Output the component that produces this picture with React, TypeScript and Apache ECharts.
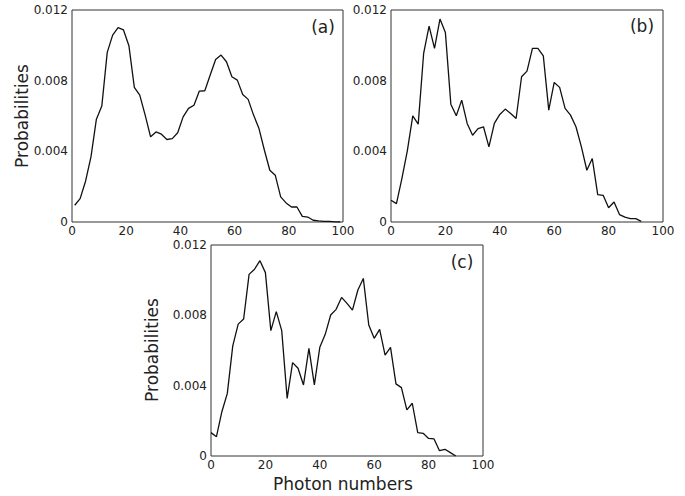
import React, { useEffect, useRef } from "react";
import * as echarts from "echarts";

const photonA = [1, 3, 5, 7, 9, 11, 13, 15, 17, 19, 21, 23, 25, 27, 29, 31, 33, 35, 37, 39, 41, 43, 45, 47, 49, 51, 53, 55, 57, 59, 61, 63, 65, 67, 69, 71, 73, 75, 77, 79, 81, 83, 85, 87, 89, 91, 93, 95, 97, 99];
const probA = [0.00095, 0.00132, 0.00231, 0.00369, 0.00582, 0.00656, 0.0096, 0.01058, 0.011, 0.01087, 0.00998, 0.00762, 0.00718, 0.00605, 0.00482, 0.0051, 0.00497, 0.00467, 0.00472, 0.00505, 0.00595, 0.00643, 0.00661, 0.00741, 0.00743, 0.00832, 0.0092, 0.00945, 0.00907, 0.00822, 0.00803, 0.00722, 0.00694, 0.00605, 0.00529, 0.00406, 0.00293, 0.00265, 0.00142, 0.00108, 0.00085, 0.00085, 0.00032, 0.00028, 0.0001, 0.00006, 0.00004, 0.00003, 0.00001, 0];

const photonB = [0, 2, 4, 6, 8, 10, 12, 14, 16, 18, 20, 22, 24, 26, 28, 30, 32, 34, 36, 38, 40, 42, 44, 46, 48, 50, 52, 54, 56, 58, 60, 62, 64, 66, 68, 70, 72, 74, 76, 78, 80, 82, 84, 86, 88, 90, 92];
const probB = [0.00123, 0.00104, 0.00246, 0.00403, 0.00601, 0.00554, 0.00954, 0.01109, 0.00983, 0.01149, 0.01072, 0.00667, 0.00601, 0.0069, 0.00558, 0.00491, 0.00529, 0.00539, 0.00425, 0.00558, 0.00609, 0.00639, 0.00614, 0.00586, 0.00822, 0.00854, 0.00983, 0.00983, 0.0094, 0.00633, 0.0079, 0.00762, 0.00643, 0.00605, 0.00539, 0.00425, 0.00293, 0.00359, 0.00155, 0.00151, 0.00081, 0.00113, 0.00042, 0.00028, 0.00019, 0.00019, 0.00004];

const photonC = [0, 2, 4, 6, 8, 10, 12, 14, 16, 18, 20, 22, 24, 26, 28, 30, 32, 34, 36, 38, 40, 42, 44, 46, 48, 50, 52, 54, 56, 58, 60, 62, 64, 66, 68, 70, 72, 74, 76, 78, 80, 82, 84, 86, 88, 90];
const probC = [0.00133, 0.0011, 0.00252, 0.00356, 0.00626, 0.0075, 0.00779, 0.01033, 0.01062, 0.01111, 0.01043, 0.00713, 0.00821, 0.00713, 0.00328, 0.00531, 0.00499, 0.00404, 0.00612, 0.00404, 0.00618, 0.00692, 0.00802, 0.00834, 0.00902, 0.00868, 0.0083, 0.00944, 0.0101, 0.00745, 0.00669, 0.0072, 0.00574, 0.00618, 0.0041, 0.00389, 0.00262, 0.003, 0.00133, 0.00129, 0.001, 0.00097, 0.0003, 0.00038, 0.00019, 0];

const panelLabels = ["(a)", "(b)", "(c)"];
const yTitle = "Probabilities";
const xTitle = "Photon numbers";

const FONT = "DejaVu Sans";

export default function App() {
  const ref = useRef<HTMLDivElement>(null);
  useEffect(() => {
    if (!ref.current) return;
    const chart = echarts.init(ref.current, null, { renderer: "svg" });
    const grids = [
      { left: 72, top: 10, width: 271, height: 212 },
      { left: 391, top: 10, width: 272, height: 212 },
      { left: 211, top: 245, width: 272, height: 211 },
    ];
    const xAxisBase = (i: number) => ({
      type: "value",
      gridIndex: i,
      min: 0,
      max: 100,
      interval: 20,
      axisLine: { show: false },
      axisTick: { show: false },
      splitLine: { show: false },
      axisLabel: { color: "#222", fontSize: 12, fontFamily: FONT, margin: 3, showMinLabel: true, showMaxLabel: true },
    });
    const yAxisBase = (i: number) => ({
      type: "value",
      gridIndex: i,
      min: 0,
      max: 0.012,
      interval: 0.004,
      axisLine: { show: false },
      axisTick: { show: false },
      splitLine: { show: false },
      axisLabel: {
        color: "#222",
        fontSize: 12,
        fontFamily: FONT,
        margin: 4,
        showMinLabel: true,
        showMaxLabel: true,
        formatter: (v: number) => (Math.abs(v) < 1e-9 ? "0" : v.toFixed(3)),
      },
    });
    const mk = (xs: number[], ys: number[]) => xs.map((x, i) => [x, ys[i]]);
    const lineSeries = (i: number, data: number[][]) => ({
      type: "line",
      xAxisIndex: i,
      yAxisIndex: i,
      data,
      showSymbol: false,
      symbol: "none",
      lineStyle: { color: "#111", width: 1.3 },
      itemStyle: { color: "#111" },
    });
    const labelPos = [
      { x: 323, y: 27 },
      { x: 642, y: 26 },
      { x: 462, y: 262 },
    ];
    chart.setOption({
      animation: false,
      backgroundColor: "#fff",
      grid: grids.map((g) => ({ ...g, show: true, borderColor: "#333", borderWidth: 1, backgroundColor: "transparent" })),
      xAxis: [0, 1, 2].map(xAxisBase),
      yAxis: [0, 1, 2].map(yAxisBase),
      series: [
        lineSeries(0, mk(photonA, probA)),
        lineSeries(1, mk(photonB, probB)),
        lineSeries(2, mk(photonC, probC)),
      ],
      graphic: [
        ...panelLabels.map((t, i) => ({
          type: "text",
          x: labelPos[i].x,
          y: labelPos[i].y,
          style: { text: t, font: `17px '${FONT}'`, fill: "#222", align: "center", verticalAlign: "middle" },
        })),
        {
          type: "text",
          x: 22,
          y: 116,
          rotation: Math.PI / 2,
          style: { text: yTitle, font: `17px '${FONT}'`, fill: "#222", align: "center", verticalAlign: "middle" },
        },
        {
          type: "text",
          x: 152,
          y: 350,
          rotation: Math.PI / 2,
          style: { text: yTitle, font: `17px '${FONT}'`, fill: "#222", align: "center", verticalAlign: "middle" },
        },
        {
          type: "text",
          x: 343,
          y: 484,
          style: { text: xTitle, font: `17px '${FONT}'`, fill: "#222", align: "center", verticalAlign: "middle" },
        },
      ],
    });
    return () => chart.dispose();
  }, []);
  return <div ref={ref} style={{ position: "absolute", left: 0, top: 0, width: 685, height: 496 }} />;
}
